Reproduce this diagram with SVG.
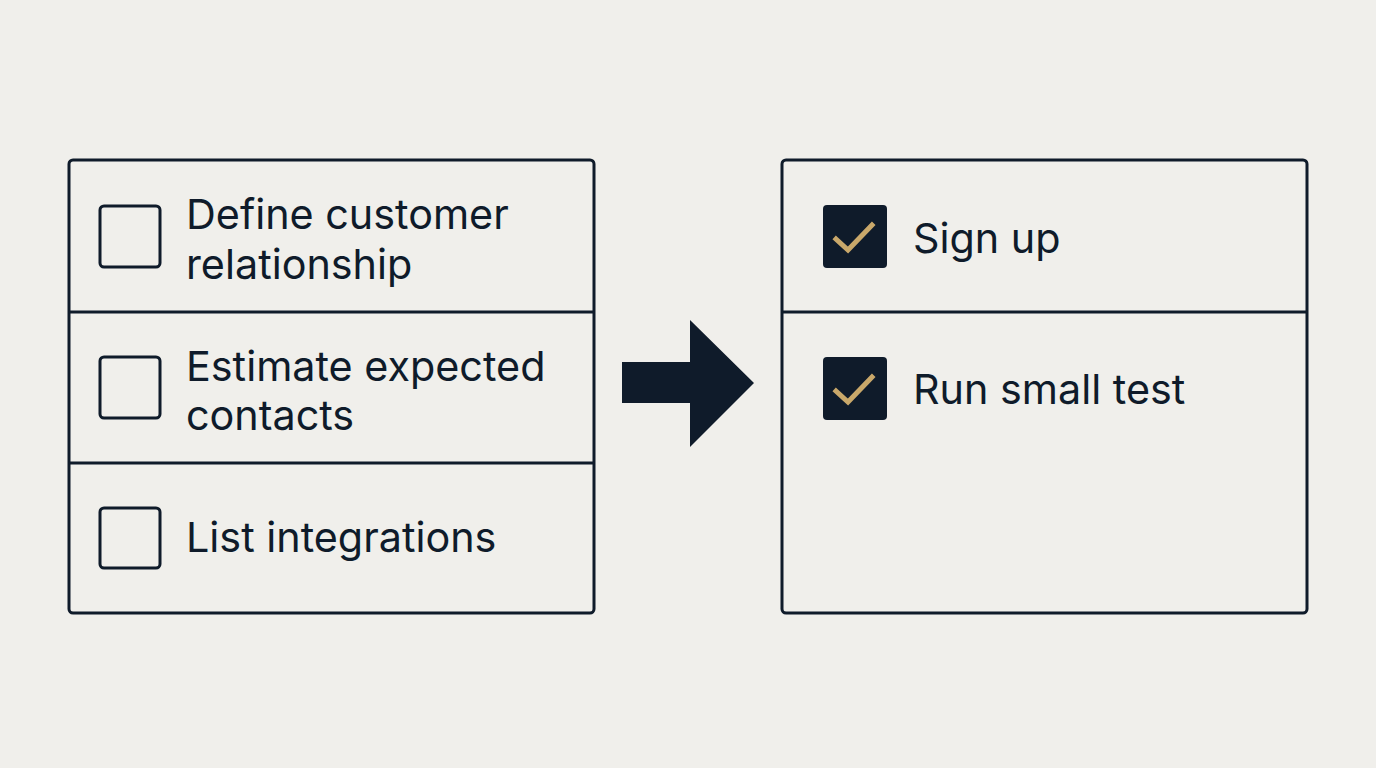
<svg xmlns="http://www.w3.org/2000/svg" width="1376" height="768" viewBox="0 0 1376 768">
<style>
.panel{fill:none;stroke:#0f1b2a;stroke-width:3}
.div{stroke:#0f1b2a;stroke-width:3}
.box{fill:none;stroke:#0f1b2a;stroke-width:3}
.cbox{fill:#0f1b2a}
.tick{fill:none;stroke:#c9a86a;stroke-width:5;stroke-linecap:square;stroke-linejoin:miter}
.t{font-family:Inter,"Noto Sans",sans-serif;font-size:41.3px;fill:#0f1b2a}
</style>
<rect width="1376" height="768" fill="#f0efeb"/>
<g id="left-panel">
<rect class="panel" x="69" y="160" width="525" height="453" rx="4"/>
<line class="div" x1="69" y1="312" x2="594" y2="312"/>
<line class="div" x1="69" y1="463" x2="594" y2="463"/>
</g>
<g id="item-define">
<rect class="box" x="100" y="206" width="60" height="61" rx="4"/>
<text class="t" x="186" y="229">Define customer</text>
<text class="t" x="186" y="279">relationship</text>
</g>
<g id="item-estimate">
<rect class="box" x="100" y="357" width="60" height="61" rx="4"/>
<text class="t" x="186" y="381">Estimate expected</text>
<text class="t" x="186" y="430">contacts</text>
</g>
<g id="item-list">
<rect class="box" x="100" y="508" width="60" height="60" rx="4"/>
<text class="t" x="186" y="552">List integrations</text>
</g>
<g id="connectors">
<polygon points="622,362 690,362 690,320 754,383 690,447 690,403 622,403" fill="#0f1b2a"/>
</g>
<g id="right-panel">
<rect class="panel" x="782" y="160" width="525" height="453" rx="4"/>
<line class="div" x1="782" y1="312" x2="1307" y2="312"/>
</g>
<g id="item-signup">
<rect class="cbox" x="823" y="205" width="64" height="63" rx="4"/>
<polyline class="tick" points="836,239 848,250 872,225"/>
<text class="t" x="913" y="253">Sign up</text>
</g>
<g id="item-runtest">
<rect class="cbox" x="823" y="357" width="64" height="63" rx="4"/>
<polyline class="tick" points="836,391 848,402 872,377"/>
<text class="t" x="913" y="404">Run small test</text>
</g>
</svg>
